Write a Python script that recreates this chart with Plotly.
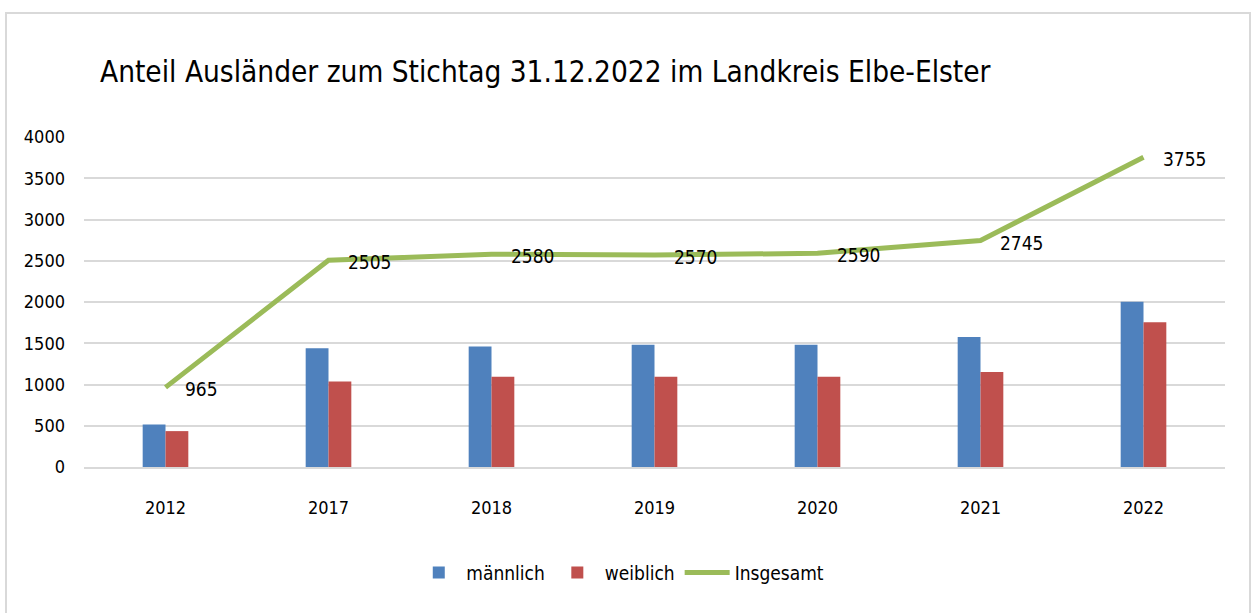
import plotly.graph_objects as go

years = ["2012", "2017", "2018", "2019", "2020", "2021", "2022"]
maennlich = [515, 1440, 1460, 1483, 1483, 1576, 2004]
weiblich = [435, 1037, 1095, 1095, 1095, 1152, 1754]
insgesamt = [965, 2505, 2580, 2570, 2590, 2745, 3755]
y_ticks = [0, 500, 1000, 1500, 2000, 2500, 3000, 3500, 4000]

FONT = "DejaVu Sans Condensed"

fig = go.Figure()
fig.add_trace(go.Bar(x=years, y=maennlich, name="männlich",
                     marker=dict(color="#4F81BD", line=dict(width=0))))
fig.add_trace(go.Bar(x=years, y=weiblich, name="weiblich",
                     marker=dict(color="#C0504D", line=dict(width=0))))
fig.add_trace(go.Scatter(x=years, y=insgesamt, name="Insgesamt", mode="lines",
                         line=dict(color="#9BBB59", width=5)))

annotations = [dict(x=i, y=v, text=str(v), xref="x", yref="y", showarrow=False,
                    xanchor="left", yanchor="middle", xshift=17, yshift=-2,
                    font=dict(size=19, color="#000000", family=FONT))
               for i, v in enumerate(insgesamt)]

fig.update_layout(
    width=1251, height=613,
    margin=dict(l=84, r=26, t=137, b=146),
    paper_bgcolor="white", plot_bgcolor="white",
    font=dict(family=FONT, size=18, color="#000000"),
    barmode="group", bargap=0.72, bargroupgap=0,
    title=dict(text="Anteil Ausländer zum Stichtag 31.12.2022 im Landkreis Elbe-Elster",
               x=100/1251, xanchor="left", xref="container",
               y=1-72/613, yanchor="middle", yref="container",
               font=dict(size=29.5, family=FONT, color="#000000")),
    legend=dict(orientation="h", x=0.47, xanchor="center", y=-0.32, yanchor="middle",
                font=dict(size=19, family=FONT), itemwidth=45, traceorder="normal"),
    showlegend=True,
    annotations=annotations,
    shapes=[dict(type="rect", xref="paper", yref="paper",
                 x0=(6-84)/1141, x1=(1250-84)/1141,
                 y0=(467-640)/330, y1=(467-13)/330,
                 line=dict(color="#D9D9D9", width=2), fillcolor="rgba(0,0,0,0)",
                 layer="below")],
)
fig.update_xaxes(type="category", range=[-0.5, len(years) - 0.5], showgrid=False,
                 showline=True, linecolor="#D9D9D9", linewidth=2, ticks="",
                 ticklabelstandoff=23, tickfont=dict(size=18, family=FONT))
fig.update_yaxes(range=[0, 4000], tickvals=y_ticks, showgrid=True, gridcolor="#D9D9D9",
                 gridwidth=2, zeroline=False, showline=False, ticks="",
                 ticklabelstandoff=18, tickfont=dict(size=18, family=FONT))

fig.write_html("out.html", config={"displayModeBar": False},
               post_script="document.body.style.margin='0';document.body.style.overflow='hidden';")
